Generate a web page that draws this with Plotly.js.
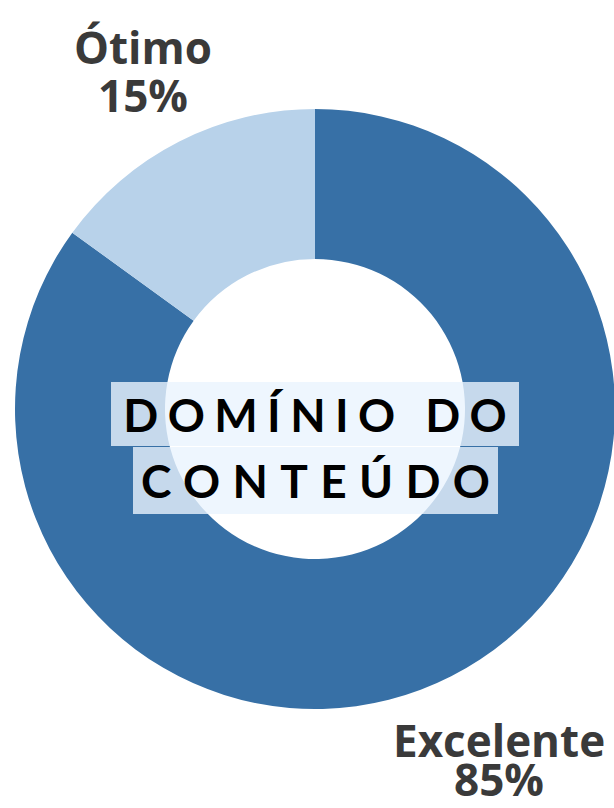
<!DOCTYPE html>
<html>
<head>
<meta charset="utf-8">
<script src="https://cdn.plot.ly/plotly-3.0.1.min.js"></script>
<style>
  html, body { margin: 0; padding: 0; overflow: hidden; background: #ffffff; }
  #chart { width: 640px; height: 808px; }
</style>
</head>
<body>
<div id="chart"></div>
<script>
// Data
const labels = ['Excelente', 'Ótimo'];
const values = [85, 15];
const sliceColors = ['#3770a6', '#b8d2ea'];
const centerLines = ['DOMÍNIO DO', 'CONTEÚDO'];

const W = 640, H = 808;
const cx = 315, cy = 409, R = 300;

const trace = {
  type: 'pie',
  labels: labels,
  values: values,
  marker: { colors: sliceColors, line: { width: 0 } },
  hole: 0.5,
  sort: false,
  direction: 'clockwise',
  rotation: 0,
  textinfo: 'none',
  automargin: false,
  showlegend: false,
  hoverinfo: 'none',
  domain: { x: [(cx - R) / W, (cx + R) / W], y: [1 - (cy + R) / H, 1 - (cy - R) / H] }
};

// center title boxes
const boxW = [408, 365];
const boxH = [64, 67];
const boxCY = [414, 480];
const spacing = [9.4, 12.3];
const annotations = centerLines.map((t, i) => ({
  text: t,
  xref: 'paper', yref: 'paper',
  x: cx / W, y: 1 - boxCY[i] / H,
  xanchor: 'center', yanchor: 'middle',
  showarrow: false,
  width: boxW[i], height: boxH[i],
  bgcolor: 'rgba(234,244,254,0.8)',
  borderpad: 0, borderwidth: 0,
  font: { family: 'Lato', size: 46, color: '#000000', weight: 'bold' }
}));

// outside slice labels (label line + percent line)
const labelPos = [
  { x: 499, y1: 740, y2: 779 },
  { x: 143, y1: 47, y2: 95 }
];
labels.forEach((lab, i) => {
  const p = labelPos[i];
  const f = { family: 'Open Sans', size: 44, color: '#3a3a3a', weight: 'bold' };
  annotations.push({
    text: lab, xref: 'paper', yref: 'paper',
    x: p.x / W, y: 1 - p.y1 / H, xanchor: 'center', yanchor: 'middle',
    showarrow: false, font: f
  });
  annotations.push({
    text: values[i] + '%', xref: 'paper', yref: 'paper',
    x: p.x / W, y: 1 - p.y2 / H, xanchor: 'center', yanchor: 'middle',
    showarrow: false, font: f
  });
});

const layout = {
  width: W, height: H,
  margin: { l: 0, r: 0, t: 0, b: 0 },
  paper_bgcolor: '#ffffff',
  plot_bgcolor: '#ffffff',
  showlegend: false,
  annotations: annotations
};

Plotly.newPlot('chart', [trace], layout, { displayModeBar: false, staticPlot: true }).then(() => {
  const groups = document.querySelectorAll('#chart g.annotation');
  groups.forEach((g) => {
    const idx = +g.getAttribute('data-index');
    if (idx < centerLines.length) {
      const txt = g.querySelector('text.annotation-text');
      if (txt) {
        txt.style.letterSpacing = spacing[idx] + 'px';
        txt.setAttribute('dx', spacing[idx] / 2);
      }
    }
  });
});
</script>
</body>
</html>
